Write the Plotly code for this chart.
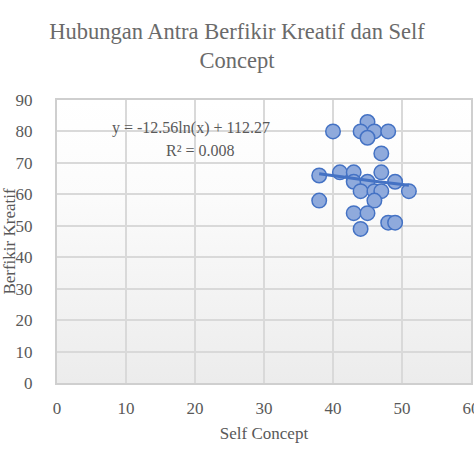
import base64
import numpy as np
import plotly.graph_objects as go

# Data
self_concept = [40, 45, 44, 46, 48, 45, 47,
                38, 41, 43, 47, 43, 45, 49,
                51, 44, 46, 47, 38, 46, 43, 45, 48, 49, 44]
berfikir_kreatif = [80, 83, 80, 80, 80, 78, 73,
                    66, 67, 67, 67, 64, 64, 64,
                    61, 61, 61, 61, 58, 58, 54, 54, 51, 51, 49]

# Logarithmic trendline shown on the chart
trend_a = -12.56
trend_b = 112.27
r_squared = 0.008

x_ticks = [0, 10, 20, 30, 40, 50, 60]
y_ticks = [0, 10, 20, 30, 40, 50, 60, 70, 80, 90]

TEXT = "#595959"
FONT = "Liberation Serif, Times New Roman, serif"

xs = np.linspace(min(self_concept), max(self_concept), 60)
ys = trend_a * np.log(xs) + trend_b

fig = go.Figure()
fig.add_trace(go.Scatter(
    x=self_concept, y=berfikir_kreatif, mode="markers",
    marker=dict(size=14.5, color="#8FAADC", line=dict(color="#4472C4", width=1.5)),
    showlegend=False, hoverinfo="x+y"))
fig.add_trace(go.Scatter(
    x=xs, y=ys, mode="lines", line=dict(color="#4472C4", width=3),
    showlegend=False, hoverinfo="skip"))

svg = ("<svg xmlns='http://www.w3.org/2000/svg' width='10' height='100' viewBox='0 0 10 100' "
       "preserveAspectRatio='none'><defs><linearGradient id='g' x1='0' y1='0' x2='0' y2='1'>"
       "<stop offset='0' stop-color='#ffffff'/><stop offset='0.35' stop-color='#fbfbfb'/>"
       "<stop offset='1' stop-color='#ececec'/></linearGradient></defs>"
       "<rect width='10' height='100' fill='url(#g)'/></svg>")
src = "data:image/svg+xml;base64," + base64.b64encode(svg.encode()).decode()

fig.update_layout(
    width=474, height=474,
    margin=dict(l=57, r=1, t=100, b=91),
    paper_bgcolor="white", plot_bgcolor="rgba(0,0,0,0)",
    font=dict(family=FONT, color=TEXT, size=16),
    title=dict(text="Hubungan Antra Berfikir Kreatif dan Self<br>Concept",
               x=0.5, xanchor="center", y=0.918, yanchor="top",
               font=dict(family=FONT, size=22.5, color="#6a6a6a")),
    images=[dict(source=src, xref="paper", yref="paper", x=0, y=1, sizex=1, sizey=1,
                 xanchor="left", yanchor="top", sizing="stretch", layer="below")],
    xaxis=dict(range=[0, 60], tickvals=x_ticks, showgrid=True, gridcolor="#d9d9d9", gridwidth=1.5,
               showline=True, linecolor="#cfcfcf", linewidth=2, mirror=True, zeroline=False,
               ticks="outside", ticklen=9, tickcolor="rgba(0,0,0,0)",
               ticklabeloverflow="allow", automargin=False,
               tickfont=dict(size=17, color=TEXT),
               title=dict(text="Self Concept", font=dict(size=17, color=TEXT), standoff=10)),
    yaxis=dict(range=[0, 90], tickvals=y_ticks, showgrid=True, gridcolor="#d9d9d9", gridwidth=1.5,
               showline=True, linecolor="#cfcfcf", linewidth=2, mirror=True, zeroline=False,
               ticks="outside", ticklen=19, tickcolor="rgba(0,0,0,0)",
               tickfont=dict(size=17, color=TEXT),
               title=dict(text="Berfikir Kreatif", font=dict(size=17, color=TEXT), standoff=2)),
    annotations=[
        dict(text=f"y = {trend_a}ln(x) + {trend_b}", x=19.4, y=81.0, xref="x", yref="y",
             showarrow=False, font=dict(size=16, color=TEXT)),
        dict(text=f"R² = {r_squared:.3f}", x=20.8, y=74.0, xref="x", yref="y",
             showarrow=False, font=dict(size=16, color=TEXT)),
    ],
)

fig.write_html("out.html")
